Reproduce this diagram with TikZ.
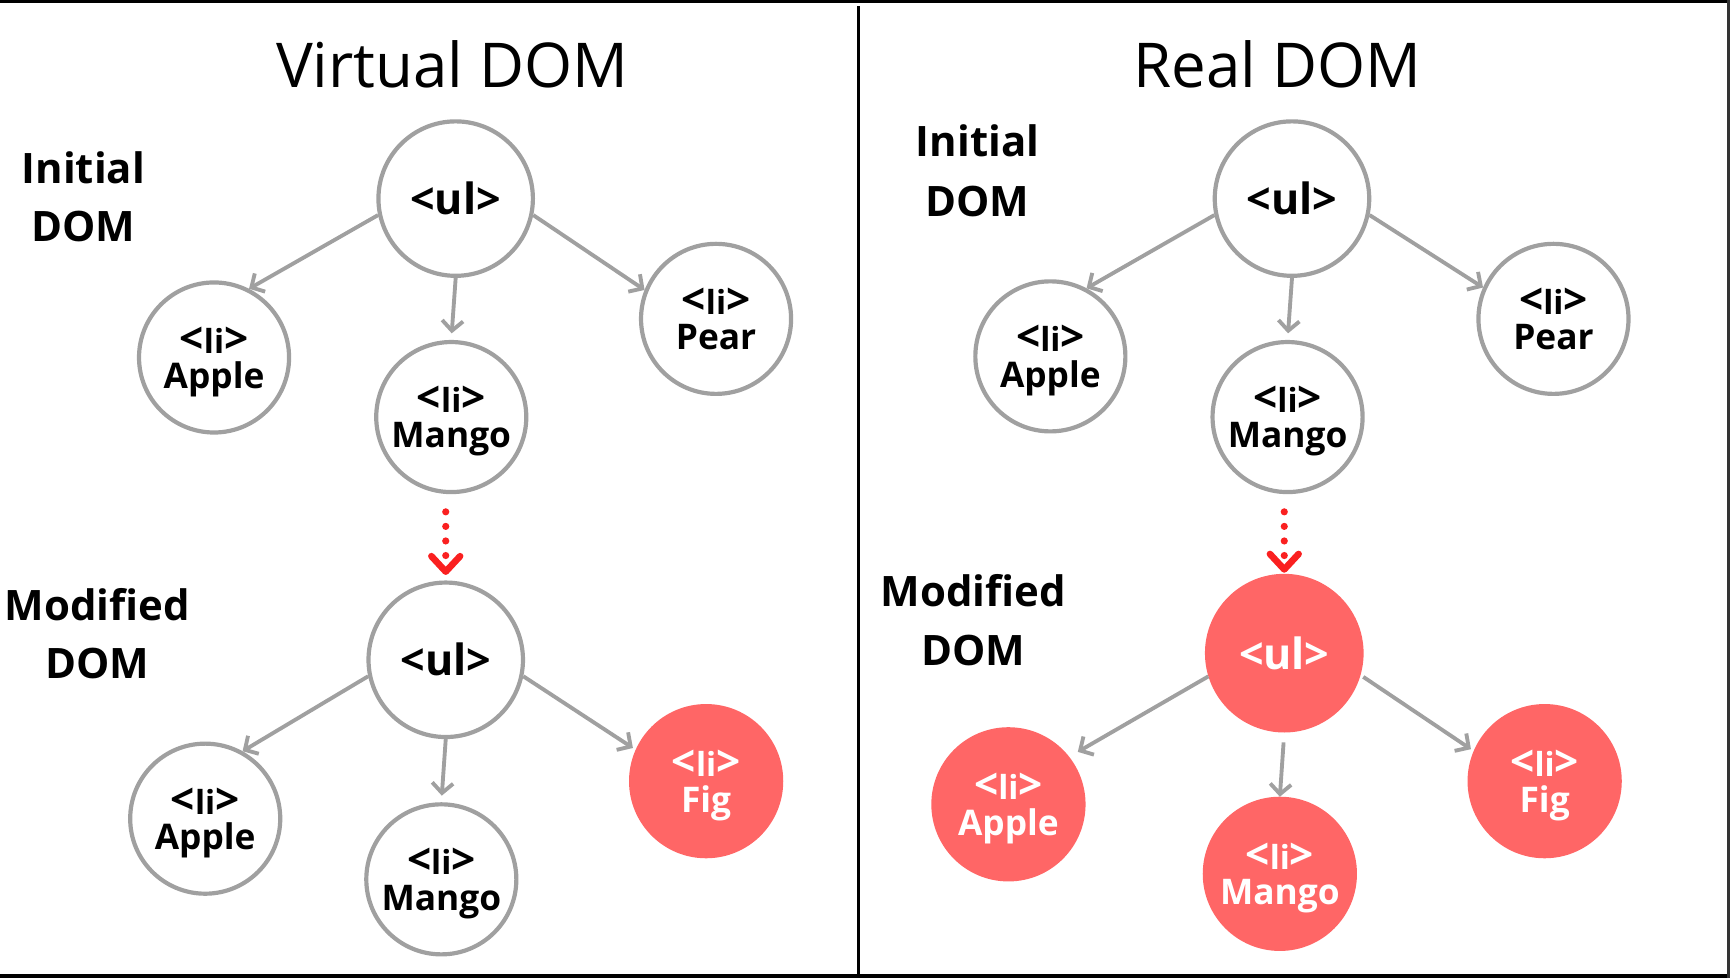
\documentclass[tikz,border=0pt]{standalone}
\usepackage{fontspec}
\usepackage{graphicx}
\setmainfont{Open Sans}
\usetikzlibrary{arrows.meta}
\definecolor{edgegray}{RGB}{160,160,160}
\definecolor{hot}{RGB}{255,102,102}
\definecolor{dotred}{RGB}{250,32,32}
\newcommand\litag{\scalebox{1.28}{<}li\scalebox{1.28}{>}}
\begin{document}
\begin{tikzpicture}[x=1pt,y=-1pt,
  ulnode/.style={circle, draw=edgegray, line width=3.8pt, minimum size=140pt, inner sep=0pt,
    font=\bfseries\fontsize{39}{40}\selectfont},
  linode/.style={circle, draw=edgegray, line width=3.8pt, minimum size=136pt, inner sep=0pt},
  hotul/.style={ulnode, draw=hot, fill=hot, text=white},
  hotli/.style={linode, draw=hot, fill=hot},
  tagtxt/.style={anchor=base, inner sep=0pt, font=\bfseries\fontsize{30}{30}\selectfont},
  wordtxt/.style={anchor=base, inner sep=0pt, font=\bfseries\fontsize{32}{32}\selectfont},
  sidetxt/.style={anchor=base, inner sep=0pt, font=\bfseries\fontsize{38}{40}\selectfont},
  titletxt/.style={anchor=base, inner sep=0pt, font=\fontsize{56}{60}\selectfont},
  link/.style={draw=edgegray, line width=3.5pt, -{Straight Barb[length=9pt,width=19pt]}},
  change/.style={draw=dotred, line width=6.5pt, line cap=round, dash pattern=on 0pt off 13.2pt,
    -{Straight Barb[length=14pt,width=26pt,round,line width=6pt]}}
]
\useasboundingbox (0,0) rectangle (1568,886);
% frame
\fill[black] (0,0) rectangle (1568,3);
\fill[black] (0,883) rectangle (1568,886);
\fill[black!80] (1565.5,0) rectangle (1568,886);
\fill[black] (776.3,5.5) rectangle (779.8,886);

% titles
\node[titletxt] (t1) at (410,79) {Virtual DOM};
\node[titletxt] (t2) at (1158,79) {Real DOM};

% side labels
\node[sidetxt] (l1a) at (75.5,166) {Initial};
\node[sidetxt] (l1b) at (75.5,219) {DOM};
\node[sidetxt] (l2a) at (88,562) {Modified};
\node[sidetxt] (l2b) at (88,615) {DOM};
\node[sidetxt] (l3a) at (886,142) {Initial};
\node[sidetxt] (l3b) at (886,196) {DOM};
\node[sidetxt] (l4a) at (882,550) {Modified};
\node[sidetxt] (l4b) at (882,603) {DOM};

% ---------- Virtual DOM, initial
\node[ulnode] (ulA) at (413,180) {<ul>};
\node[linode] (appleA) at (194,324) {};
\node[linode] (mangoA) at (409,378) {};
\node[linode] (pearA) at (649,289) {};
% ---------- Virtual DOM, modified
\node[ulnode] (ulB) at (404,598) {<ul>};
\node[linode] (appleB) at (186,742) {};
\node[linode] (mangoB) at (400,797) {};
\node[hotli] (figB) at (640,708) {};
% ---------- Real DOM, initial
\node[ulnode] (ulC) at (1171,180) {<ul>};
\node[linode] (appleC) at (952,323) {};
\node[linode] (mangoC) at (1167,378) {};
\node[linode] (pearC) at (1408,289) {};
% ---------- Real DOM, modified
\node[hotul] (ulD) at (1164,592) {<ul>};
\node[hotli] (appleD) at (914,729) {};
\node[hotli] (mangoD) at (1160,792) {};
\node[hotli] (figD) at (1400,708) {};

% texts inside li circles
\foreach \n/\w in {appleA/Apple, mangoA/Mango, pearA/Pear, appleB/Apple, mangoB/Mango,
                   appleC/Apple, mangoC/Mango, pearC/Pear}{
  \node[tagtxt] (\n-tag) at ([yshift=4pt]\n.center) {\litag};
  \node[wordtxt] (\n-word) at ([yshift=-28pt]\n.center) {\w};
}
\foreach \n/\w in {figB/Fig, appleD/Apple, mangoD/Mango, figD/Fig}{
  \node[tagtxt, text=white] (\n-tag) at ([yshift=4pt]\n.center) {\litag};
  \node[wordtxt, text=white] (\n-word) at ([yshift=-28pt]\n.center) {\w};
}

% connectors
\draw[link] (ulA.192) -- (appleA.63);
\draw[link, shorten >=6pt] (ulA.south) -- (mangoA.north);
\draw[link] (ulA.348) -- (pearA.158);

\draw[link] (ulB.192) -- (appleB.61);
\draw[link, shorten >=6pt] (ulB.south) -- (mangoB.north);
\draw[link, shorten >=3pt] (ulB.348) -- (figB.156);

\draw[link] (ulC.192) -- (appleC.62);
\draw[link, shorten >=6pt] (ulC.south) -- (mangoC.north);
\draw[link] (ulC.348) -- (pearC.156);

\draw[link, shorten >=9pt] (ulD.197) -- (appleD.38);
\draw[link, shorten <=9pt] (ulD.south) -- (mangoD.north);
\draw[link, shorten <=3pt, shorten >=3pt] (ulD.344) -- (figD.157);

% change arrows
\draw[change, shorten <=16pt, shorten >=5pt] (ulB.north |- mangoA.south) -- (ulB.north);
\draw[change, shorten <=16pt, shorten >=1pt] (ulD.north |- mangoC.south) -- (ulD.north);
\end{tikzpicture}
\end{document}
